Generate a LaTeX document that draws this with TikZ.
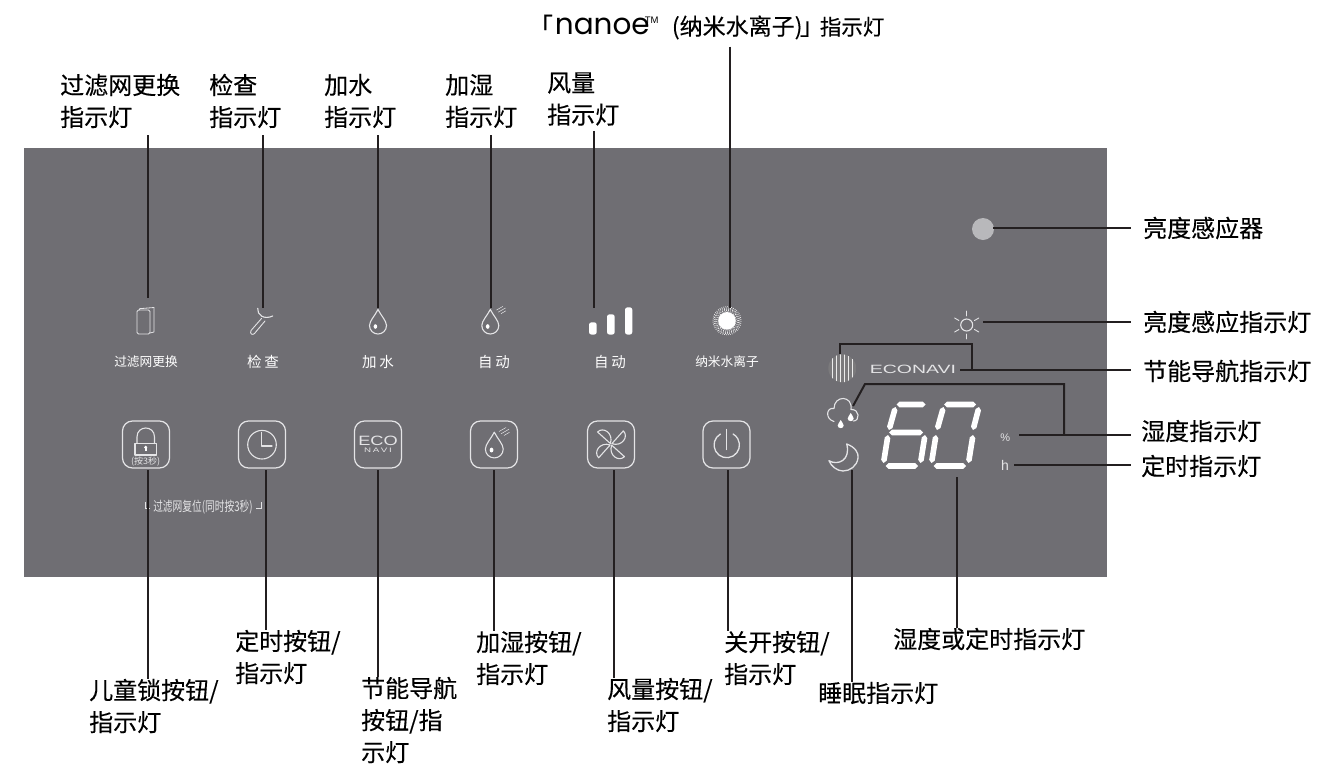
\documentclass[tikz,border=0pt]{standalone}
\usepackage{fontspec}
\usepackage{graphicx}
\setmainfont{Noto Sans CJK SC}
\newfontfamily\lblfont{Noto Sans CJK SC}[FakeBold=0.25]
\newfontfamily\popfont{Poppins}
\newfontfamily\arialfont{Liberation Sans}
\definecolor{panelc}{HTML}{6F6E73}
\definecolor{leadc}{HTML}{231F20}
\definecolor{iconc}{HTML}{E4E4E6}
\definecolor{sensc}{HTML}{B8B8BB}
\tikzset{
  lbl/.style={anchor=west,inner sep=0pt,align=left,font=\fontsize{24}{32}\lblfont,text=black},
  lead/.style={draw=leadc,line width=2pt},
  btn/.style={draw=iconc,line width=1.2pt,rounded corners=10pt,minimum width=47pt,minimum height=47pt,inner sep=0pt},
  ico/.style={draw=iconc,line width=1.1pt,line cap=round,line join=round},
  captxt/.style={inner sep=0pt,text=white,font=\fontsize{12.7}{14}\selectfont},
  captwo/.style={inner sep=0pt,text=white,font=\fontsize{14.5}{15}\selectfont}
}
\newcommand{\dropicon}[3]{%
 \begin{scope}[shift={(#1,#2)},scale=#3]
  \draw[ico] (0,-16) .. controls (-3,-10) and (-8.5,-4.5) .. (-8.5,0) .. controls (-8.5,5) and (-4.5,8.5) .. (0,8.5) .. controls (4.5,8.5) and (8.5,5) .. (8.5,0) .. controls (8.5,-4.5) and (3,-10) .. (0,-16) -- cycle;
  \fill[white] (-2.6,1) ellipse [x radius=1.8,y radius=2.3];
 \end{scope}}
\newcommand{\hashes}[3]{%
 \begin{scope}[shift={(#1,#2)},scale=#3]
  \draw[draw=iconc,line width=.5pt] (0,4.5) -- (7,.5) (2,6.8) -- (10,2.2) (5,8.5) -- (10.5,5.3);
 \end{scope}}
% one display segment: a hexagon from tip to tip
\newcommand{\dispseg}[4]{%
 \pgfmathsetmacro{\segl}{veclen(#3-#1,#4-#2)}%
 \pgfmathsetmacro{\segux}{2.8*(#3-#1)/\segl}%
 \pgfmathsetmacro{\seguy}{2.8*(#4-#2)/\segl}%
 \fill[white] (#1,#2) -- ({#1+\segux-\seguy},{#2+\seguy+\segux}) -- ({#3-\segux-\seguy},{#4-\seguy+\segux}) -- (#3,#4) -- ({#3-\segux+\seguy},{#4-\seguy-\segux}) -- ({#1+\segux+\seguy},{#2+\seguy-\segux}) -- cycle;}
\begin{document}
\begin{tikzpicture}[x=1pt,y=-1pt]
\useasboundingbox (0,0) rectangle (1342,766);
\fill[panelc] (24,148) rectangle (1107,577);

% labels
\node[lbl] (lfilter) at (60,101) {过滤网更换\\指示灯};
\node[lbl] (lcheck) at (209,101) {检查\\指示灯};
\node[lbl] (lwater) at (324,101) {加水\\指示灯};
\node[lbl] (lhumid) at (445,101) {加湿\\指示灯};
\node[lbl] (lfan) at (547,99) {风量\\指示灯};
\node[lbl] (lnano) at (541.7,27) {\makebox[15pt][l]{\hspace{-13pt}「}\makebox[86pt][l]{\hspace{-2pt}\scalebox{1.0}[1]{\fontsize{29.5}{30}\popfont nanoe}}\makebox[29pt][l]{\hspace{2pt}\raisebox{11pt}{\fontsize{9.5}{10}\arialfont TM}}\makebox[133pt][l]{\fontsize{23}{24}\lblfont (纳米水离子)}\makebox[15pt][l]{\hspace{-5pt}」}{\fontsize{21.5}{22}\lblfont 指示灯}};
\node[lbl] (lsensor) at (1143,228) {亮度感应器};
\node[lbl] (lsensled) at (1143,322) {亮度感应指示灯};
\node[lbl] (leco) at (1143,371) {节能导航指示灯};
\node[lbl] (lhumled) at (1141,431) {湿度指示灯};
\node[lbl] (ltimeled) at (1141,466) {定时指示灯};
\node[lbl] (bchild) at (89,706) {儿童锁按钮/\\指示灯};
\node[lbl] (btimer) at (235,657) {定时按钮/\\指示灯};
\node[lbl] (bnavi) at (361,720) {节能导航\\按钮/指\\示灯};
\node[lbl] (bhumid) at (476,658) {加湿按钮/\\指示灯};
\node[lbl] (bfan) at (607,705) {风量按钮/\\指示灯};
\node[lbl] (boff) at (724,658) {关开按钮/\\指示灯};
\node[lbl] (bsleep) at (818,693) {睡眠指示灯};
\node[lbl] (bdisp) at (893,639) {湿度或定时指示灯};

% captions
\node[captxt] (c1) at (146,362) {过滤网更换};
\node[captwo] (c2) at (263,362) {检\hspace{3pt}查};
\node[captwo] (c3) at (378,362) {加\hspace{3pt}水};
\node[captwo] (c4) at (494,362) {自\hspace{3pt}动};
\node[captwo] (c5) at (610,362) {自\hspace{3pt}动};
\node[captxt] (c6) at (727,362) {纳米水离子};
\node[inner sep=0pt,text=iconc,font=\fontsize{13.5}{14}\selectfont] (creset) at (203,507) {\scalebox{.72}[1]{过滤网复位(同时按3秒)}};
\draw[draw=iconc,line width=.7pt] (145,502) -- (145,508) -- (150,508) (256,508) -- (261,508) -- (261,502);

% buttons
\node[btn] (k1) at (146,444.5) {};
\node[btn] (k2) at (262,444.5) {};
\node[btn] (k3) at (378,444.5) {};
\node[btn] (k4) at (494,444.5) {};
\node[btn] (k5) at (611,444.5) {};
\node[btn] (k6) at (726.5,444.5) {};

% lock
\draw[ico] (135,443.5) rectangle (156.5,455);
\draw[ico] (137,443.5) -- (137,437) .. controls (137,425) and (154.5,425) .. (154.5,437) -- (154.5,443.5);
\fill[white] (145.7,447.3) circle [radius=1.7];
\fill[white] (144.9,447.5) rectangle (146.5,451.3);
\node[inner sep=0pt,text=iconc,font=\fontsize{9}{10}\selectfont] (t3s) at (145.7,461.5) {(按3秒)};
% clock
\draw[ico] (262,444.7) circle [radius=14.3];
\draw[ico] (261.5,432.5) -- (261.5,446) -- (272,446);
% eco
\node[inner sep=0pt,text=iconc,font=\fontsize{13.5}{13}\arialfont] (teco) at (378,441.3) {\scalebox{1.35}[1]{ECO}};
\node[inner sep=0pt,text=iconc,font=\fontsize{6.5}{7}\arialfont] (tnavi) at (378,450.3) {\scalebox{1.5}[1]{N\,A\,V\,I}};
% humid button
\dropicon{494.3}{449}{1.05}
\hashes{499}{427}{1}
% fan
\foreach \a in {38,128,218,308}
 \draw[ico,shift={(611,444.3)},rotate=\a] (0,-1) -- (-3,-18) .. controls (5,-19) and (9,-7) .. (0,-1) -- cycle;
% power
\draw[ico,line width=1.3pt] (726.7,429.5) -- (726.7,449.5);
\draw[ico,line width=1.3pt] (720.4,434) arc [start angle=120,end angle=420,radius=12.7pt];

% indicators
\draw[ico,line width=.8pt,rounded corners=1.5pt] (137,310) rectangle (150,334);
\draw[ico,line width=.8pt] (139.5,310) -- (139.5,308.7) -- (154,307.5) -- (154,332) -- (150,333);
\draw[ico] (257.7,308.3) .. controls (257,315) and (264,320) .. (272.7,316);
\draw[ico,line width=.9pt] (261.5,318.5) -- (251,330.5) .. controls (249.5,334) and (252.5,335.5) .. (254.5,333.5) -- (265,321);
\dropicon{378}{325.5}{1}
\dropicon{490.3}{325.5}{1}
\hashes{496.5}{306}{.9}
\fill[white,rounded corners=2.5pt] (589,322.3) rectangle (596.7,334.6);
\fill[white,rounded corners=2.5pt] (607,314.3) rectangle (614.7,334.6);
\fill[white,rounded corners=2.5pt] (625,307.3) rectangle (632.3,334.6);
% nanoe burst
\foreach \r/\n in {14/44,12.8/40,11.6/36,10.4/32,9.2/28} \foreach \i in {1,...,\n}
 \fill[white] ({727+\r*cos(\i*360/\n+\r*30)},{320.8+\r*sin(\i*360/\n+\r*30)}) circle [radius=.5];
\fill[white] (727,320.8) circle [radius=8.8];

% sensor
\fill[sensc] (983,229) circle [radius=11];
% sun
\draw[ico] (966.7,325) circle [radius=6];
\foreach \a in {30,90,150,210,270,330}
 \draw[ico,line width=.9pt] ({966.7+9*cos(\a)},{325+9*sin(\a)}) -- ({966.7+14*cos(\a)},{325+14*sin(\a)});
% econavi ball
\begin{scope}
 \clip (842.3,368.3) circle [radius=14];
 \fill[gray!70!panelc] (828,354) rectangle (857,383);
 \foreach \x/\w in {832.5/1.4,836.5/1.7,840.5/1.9,844.5/1.9,848.5/1.7,852.5/1.4}
  \draw[white,line width=\w pt,opacity=.85] (\x,354) -- (\x,383);
\end{scope}
\node[inner sep=0pt,text=iconc,font=\fontsize{12}{12}\arialfont] (teconavi) at (913,369) {\scalebox{1.62}[1]{ECONAVI}};
% cloud
\draw[ico] (834,421.5) .. controls (825,419) and (826,407) .. (834,408.5) .. controls (834,395) and (853,395) .. (851,409.5) .. controls (860,409) and (860,421) .. (853.5,421);
\foreach \x/\y in {840.7/425.5,850.7/418.5}
 \fill[white] (\x,\y-5.5) .. controls (\x-1,\y-3) and (\x-3,\y-2) .. (\x-3,\y) .. controls (\x-3,\y+3.5) and (\x+3,\y+3.5) .. (\x+3,\y) .. controls (\x+3,\y-2) and (\x+1,\y-3) .. (\x,\y-5.5) -- cycle;
% moon
\draw[ico,line width=1.3pt] (846.7,444) .. controls (855,447) and (859,453) .. (858,458) .. controls (857,466) and (850,471) .. (843,471) .. controls (837,471) and (831,466) .. (829,460.7) .. controls (838,466) and (851,460) .. (846.7,444) -- cycle;
% digits
\dispseg{896.5}{404.5}{925.5}{404.5}
\dispseg{895.5}{407}{889}{430}
\dispseg{889}{432.5}{923}{432.5}
\dispseg{888}{435}{883.5}{463}
\dispseg{925}{435}{920.5}{463}
\dispseg{885.5}{466}{918}{466}
\dispseg{944}{404.5}{976}{404.5}
\dispseg{943.5}{407}{937}{430}
\dispseg{979}{407}{973}{430}
\dispseg{936}{435}{931.5}{463}
\dispseg{973}{435}{968.5}{463}
\dispseg{933.5}{466}{966}{466}
\node[inner sep=0pt,text=iconc,font=\fontsize{11}{12}\arialfont] (tpc) at (1005.3,437.7) {\%};
\node[inner sep=0pt,text=iconc,font=\fontsize{14}{14}\arialfont] (th) at (1005,465.5) {h};

% connector end points
\coordinate (e1) at (148,298);
\coordinate (e2) at (263,308);
\coordinate (e3) at (378,308);
\coordinate (e4) at (491,308);
\coordinate (e5) at (594,308);
\coordinate (e6) at (730,308);
\coordinate (s1) at (147.5,470);
\coordinate (s2) at (265.5,470);
\coordinate (s3) at (377.5,470);
\coordinate (s4) at (493.5,470);
\coordinate (s5) at (614,470);
\coordinate (s6) at (728,470);
\coordinate (s7) at (852,470);
\coordinate (s8) at (957,477);

\draw[lead,shorten <=7pt] (e1 |- lfilter.south) -- (e1);
\draw[lead,shorten <=7pt] (e2 |- lcheck.south) -- (e2);
\draw[lead,shorten <=7pt] (e3 |- lwater.south) -- (e3);
\draw[lead,shorten <=7pt] (e4 |- lhumid.south) -- (e4);
\draw[lead,shorten <=5pt] (e5 |- lfan.south) -- (e5);
\draw[lead,shorten <=7pt] (e6 |- lnano.south) -- (e6);
\draw[lead] (s1) -- (s1 |- bchild.north);
\draw[lead] (s2) -- (s2 |- btimer.north);
\draw[lead] (s3) -- (s3 |- bnavi.north);
\draw[lead] (s4) -- (s4 |- bhumid.north);
\draw[lead] (s5) -- (s5 |- bfan.north);
\draw[lead] (s6) -- (s6 |- boff.north);
\draw[lead] (s7) -- (s7 |- bsleep.north);
\draw[lead] (s8) -- (s8 |- bdisp.north);
\coordinate (r1) at (993,228);
\coordinate (r2) at (983,322);
\coordinate (r3) at (960,370);
\coordinate (r4) at (1019,435);
\coordinate (r5) at (1014,465);
\draw[lead,shorten >=12pt] (r1) -- (lsensor.west |- r1);
\draw[lead,shorten >=12pt] (r2) -- (lsensled.west |- r2);
\draw[lead,shorten >=12pt] (r3) -- (leco.west |- r3);
\draw[lead,shorten >=10pt] (r4) -- (lhumled.west |- r4);
\draw[lead,shorten >=10pt] (r5) -- (ltimeled.west |- r5);
\draw[lead,line join=miter] (972,370) -- (972,344) -- (840,344) -- (840,354);
\draw[lead,line join=miter] (1064,435) -- (1064,384) -- (865,384) -- (853,406);
\end{tikzpicture}
\end{document}
